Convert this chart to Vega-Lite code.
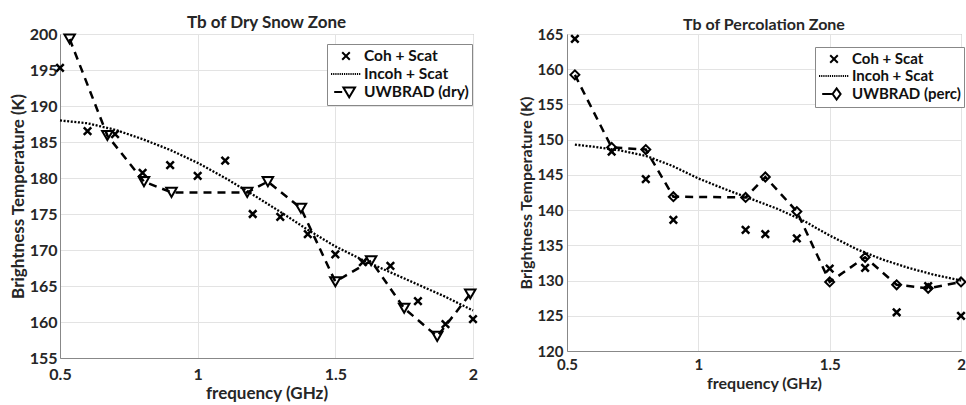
{
  "$schema": "https://vega.github.io/schema/vega-lite/v6.json",
  "padding": {"left": 8, "top": 13, "right": 0, "bottom": 0},
  "spacing": 94,
  "bounds": "flush",
  "datasets": {
    "dry": [
      {"series": "Coh + Scat", "f": 0.5, "tb": 195.3},
      {"series": "Coh + Scat", "f": 0.6, "tb": 186.5},
      {"series": "Coh + Scat", "f": 0.7, "tb": 186.1},
      {"series": "Coh + Scat", "f": 0.8, "tb": 180.7},
      {"series": "Coh + Scat", "f": 0.9, "tb": 181.8},
      {"series": "Coh + Scat", "f": 1.0, "tb": 180.3},
      {"series": "Coh + Scat", "f": 1.1, "tb": 182.4},
      {"series": "Coh + Scat", "f": 1.2, "tb": 175.0},
      {"series": "Coh + Scat", "f": 1.3, "tb": 174.6},
      {"series": "Coh + Scat", "f": 1.4, "tb": 172.2},
      {"series": "Coh + Scat", "f": 1.5, "tb": 169.4},
      {"series": "Coh + Scat", "f": 1.6, "tb": 168.3},
      {"series": "Coh + Scat", "f": 1.7, "tb": 167.8},
      {"series": "Coh + Scat", "f": 1.8, "tb": 162.9},
      {"series": "Coh + Scat", "f": 1.9, "tb": 159.7},
      {"series": "Coh + Scat", "f": 2.0, "tb": 160.4},
      {"series": "Incoh + Scat", "f": 0.5, "tb": 188.0},
      {"series": "Incoh + Scat", "f": 0.6, "tb": 187.6},
      {"series": "Incoh + Scat", "f": 0.7, "tb": 186.7},
      {"series": "Incoh + Scat", "f": 0.8, "tb": 185.4},
      {"series": "Incoh + Scat", "f": 0.9, "tb": 183.9},
      {"series": "Incoh + Scat", "f": 1.0, "tb": 182.1},
      {"series": "Incoh + Scat", "f": 1.1, "tb": 180.0},
      {"series": "Incoh + Scat", "f": 1.2, "tb": 177.7},
      {"series": "Incoh + Scat", "f": 1.3, "tb": 175.3},
      {"series": "Incoh + Scat", "f": 1.4, "tb": 172.8},
      {"series": "Incoh + Scat", "f": 1.5, "tb": 170.5},
      {"series": "Incoh + Scat", "f": 1.6, "tb": 168.6},
      {"series": "Incoh + Scat", "f": 1.7, "tb": 166.9},
      {"series": "Incoh + Scat", "f": 1.8, "tb": 165.2},
      {"series": "Incoh + Scat", "f": 1.9, "tb": 163.5},
      {"series": "Incoh + Scat", "f": 2.0, "tb": 161.6},
      {"series": "UWBRAD (dry)", "f": 0.535, "tb": 199.3},
      {"series": "UWBRAD (dry)", "f": 0.672, "tb": 185.9},
      {"series": "UWBRAD (dry)", "f": 0.805, "tb": 179.5},
      {"series": "UWBRAD (dry)", "f": 0.905, "tb": 178.0},
      {"series": "UWBRAD (dry)", "f": 1.18, "tb": 178.0},
      {"series": "UWBRAD (dry)", "f": 1.255, "tb": 179.5},
      {"series": "UWBRAD (dry)", "f": 1.375, "tb": 175.8},
      {"series": "UWBRAD (dry)", "f": 1.5, "tb": 165.6},
      {"series": "UWBRAD (dry)", "f": 1.63, "tb": 168.5},
      {"series": "UWBRAD (dry)", "f": 1.75, "tb": 161.9},
      {"series": "UWBRAD (dry)", "f": 1.87, "tb": 158.0},
      {"series": "UWBRAD (dry)", "f": 1.99, "tb": 163.9}
    ],
    "perc": [
      {"series": "Coh + Scat", "f": 0.53, "tb": 164.3},
      {"series": "Coh + Scat", "f": 0.67, "tb": 148.3},
      {"series": "Coh + Scat", "f": 0.8, "tb": 144.4},
      {"series": "Coh + Scat", "f": 0.905, "tb": 138.6},
      {"series": "Coh + Scat", "f": 1.18, "tb": 137.2},
      {"series": "Coh + Scat", "f": 1.255, "tb": 136.6},
      {"series": "Coh + Scat", "f": 1.375, "tb": 136.0},
      {"series": "Coh + Scat", "f": 1.5, "tb": 131.7},
      {"series": "Coh + Scat", "f": 1.635, "tb": 131.8},
      {"series": "Coh + Scat", "f": 1.755, "tb": 125.5},
      {"series": "Coh + Scat", "f": 1.875, "tb": 129.2},
      {"series": "Coh + Scat", "f": 2.0, "tb": 125.0},
      {"series": "Incoh + Scat", "f": 0.53, "tb": 149.3},
      {"series": "Incoh + Scat", "f": 0.6, "tb": 149.0},
      {"series": "Incoh + Scat", "f": 0.7, "tb": 148.5},
      {"series": "Incoh + Scat", "f": 0.8, "tb": 147.7},
      {"series": "Incoh + Scat", "f": 0.9, "tb": 146.3},
      {"series": "Incoh + Scat", "f": 1.0, "tb": 144.5},
      {"series": "Incoh + Scat", "f": 1.1, "tb": 143.0},
      {"series": "Incoh + Scat", "f": 1.2, "tb": 141.6},
      {"series": "Incoh + Scat", "f": 1.3, "tb": 140.2},
      {"series": "Incoh + Scat", "f": 1.4, "tb": 138.5},
      {"series": "Incoh + Scat", "f": 1.5, "tb": 136.4},
      {"series": "Incoh + Scat", "f": 1.6, "tb": 134.5},
      {"series": "Incoh + Scat", "f": 1.7, "tb": 133.0},
      {"series": "Incoh + Scat", "f": 1.8, "tb": 131.8},
      {"series": "Incoh + Scat", "f": 1.9, "tb": 130.8},
      {"series": "Incoh + Scat", "f": 2.0, "tb": 130.0},
      {"series": "UWBRAD (perc)", "f": 0.53, "tb": 159.2},
      {"series": "UWBRAD (perc)", "f": 0.67, "tb": 148.9},
      {"series": "UWBRAD (perc)", "f": 0.8, "tb": 148.6},
      {"series": "UWBRAD (perc)", "f": 0.905, "tb": 141.9},
      {"series": "UWBRAD (perc)", "f": 1.18, "tb": 141.8},
      {"series": "UWBRAD (perc)", "f": 1.255, "tb": 144.7},
      {"series": "UWBRAD (perc)", "f": 1.375, "tb": 139.8},
      {"series": "UWBRAD (perc)", "f": 1.5, "tb": 129.8},
      {"series": "UWBRAD (perc)", "f": 1.635, "tb": 133.3},
      {"series": "UWBRAD (perc)", "f": 1.755, "tb": 129.4},
      {"series": "UWBRAD (perc)", "f": 1.875, "tb": 128.9},
      {"series": "UWBRAD (perc)", "f": 2.0, "tb": 129.8}
    ]
  },
  "hconcat": [
    {
      "width": 413,
      "height": 324,
      "title": {"text": "Tb of Dry Snow Zone"},
      "data": {"name": "dry"},
      "encoding": {
        "x": {"field": "f", "type": "quantitative", "scale": {"domain": [0.5, 2], "nice": false},
              "axis": {"values": [0.5, 1, 1.5, 2], "format": "~g", "title": "frequency (GHz)", "labelFlush": false}},
        "y": {"field": "tb", "type": "quantitative", "scale": {"domain": [155, 200], "nice": false, "zero": false},
              "axis": {"values": [155, 160, 165, 170, 175, 180, 185, 190, 195, 200], "title": "Brightness Temperature (K)"}}
      },
      "layer": [
        {"transform": [{"filter": "datum.series == 'Incoh + Scat'"}],
         "mark": {"type": "line", "color": "black", "strokeWidth": 2.3, "strokeDash": [2, 1.6]}},
        {"transform": [{"filter": "datum.series == 'UWBRAD (dry)'"}],
         "mark": {"type": "line", "color": "black", "strokeWidth": 2.5, "strokeDash": [8, 6]}},
        {"transform": [{"filter": "datum.series == 'UWBRAD (dry)'"}],
         "mark": {"type": "point", "shape": "triangle-down", "filled": false, "color": "black", "strokeWidth": 2, "size": 110, "opacity": 1}},
        {"transform": [{"filter": "datum.series == 'Coh + Scat'"}],
         "mark": {"type": "point", "shape": "M-1,-1L1,1M1,-1L-1,1", "filled": false, "color": "black", "strokeWidth": 2.5, "size": 56, "opacity": 1}},
        {"transform": [{"filter": "datum.series == 'legend only'"}],
         "mark": {"type": "point", "filled": false, "color": "black", "strokeWidth": 2, "size": 256, "opacity": 1},
         "encoding": {
           "shape": {"field": "series", "type": "nominal",
             "scale": {"domain": ["Coh + Scat", "Incoh + Scat", "UWBRAD (dry)"],
                       "range": ["M0.4,-0.47L1.35,0.47M1.35,-0.47L0.4,0.47",
                                 "M-1,0h0.15m0.12,0h0.15m0.12,0h0.15m0.12,0h0.15m0.12,0h0.15m0.12,0h0.15m0.12,0h0.15m0.12,0h0.15m0.12,0h0.15m0.12,0h0.15m0.12,0h0.15m0.12,0h0.15m0.12,0h0.15m0.12,0h0.15",
                                 "M-0.6,0H0.4M0.55,-0.55H2L1.275,0.65Z"]},
             "legend": {"title": null, "orient": "none", "legendX": 267, "legendY": 10, "fillColor": "white", "strokeColor": "#888",
                        "padding": 3, "labelFont": "Lato", "labelFontSize": 15.5, "labelFontWeight": "bold", "labelColor": "#111",
                        "symbolSize": 256, "symbolStrokeWidth": 2, "symbolStrokeColor": "black", "labelOffset": 16, "rowPadding": 0}}
         }}
      ]
    },
    {
      "width": 394,
      "height": 317,
      "title": {"text": "Tb of Percolation Zone", "fontSize": 16},
      "data": {"name": "perc"},
      "encoding": {
        "x": {"field": "f", "type": "quantitative", "scale": {"domain": [0.5, 2], "nice": false},
              "axis": {"values": [0.5, 1, 1.5, 2], "format": "~g", "title": "frequency (GHz)", "labelFlush": false,
                       "labelFontSize": 15, "titleFontSize": 16, "labelPadding": 6}},
        "y": {"field": "tb", "type": "quantitative", "scale": {"domain": [120, 165], "nice": false, "zero": false},
              "axis": {"values": [120, 125, 130, 135, 140, 145, 150, 155, 160, 165], "title": "Brightness Temperature (K)",
                       "labelFontSize": 15, "titleFontSize": 16, "labelPadding": 4}}
      },
      "layer": [
        {"transform": [{"filter": "datum.series == 'Incoh + Scat'"}],
         "mark": {"type": "line", "color": "black", "strokeWidth": 2.3, "strokeDash": [2, 1.6]}},
        {"transform": [{"filter": "datum.series == 'UWBRAD (perc)'"}],
         "mark": {"type": "line", "color": "black", "strokeWidth": 2.5, "strokeDash": [8, 6]}},
        {"transform": [{"filter": "datum.series == 'UWBRAD (perc)'"}],
         "mark": {"type": "point", "shape": "diamond", "filled": false, "color": "black", "strokeWidth": 2, "size": 80, "opacity": 1}},
        {"transform": [{"filter": "datum.series == 'Coh + Scat'"}],
         "mark": {"type": "point", "shape": "M-1,-1L1,1M1,-1L-1,1", "filled": false, "color": "black", "strokeWidth": 2.5, "size": 56, "opacity": 1}},
        {"transform": [{"filter": "datum.series == 'legend only'"}],
         "mark": {"type": "point", "filled": false, "color": "black", "strokeWidth": 2, "size": 256, "opacity": 1},
         "encoding": {
           "shape": {"field": "series", "type": "nominal",
             "scale": {"domain": ["Coh + Scat", "Incoh + Scat", "UWBRAD (perc)"],
                       "range": ["M0.4,-0.47L1.35,0.47M1.35,-0.47L0.4,0.47",
                                 "M-1,0h0.15m0.12,0h0.15m0.12,0h0.15m0.12,0h0.15m0.12,0h0.15m0.12,0h0.15m0.12,0h0.15m0.12,0h0.15m0.12,0h0.15m0.12,0h0.15m0.12,0h0.15m0.12,0h0.15m0.12,0h0.15m0.12,0h0.15",
                                 "M-0.6,0H0.6M1.2,-0.7L1.7,0L1.2,0.7L0.7,0Z"]},
             "legend": {"title": null, "orient": "none", "legendX": 248, "legendY": 13, "fillColor": "white", "strokeColor": "#888",
                        "padding": 3, "labelFont": "Lato", "labelFontSize": 15, "labelFontWeight": "bold", "labelColor": "#111",
                        "symbolSize": 256, "symbolStrokeWidth": 2, "symbolStrokeColor": "black", "labelOffset": 16, "rowPadding": 0}}
         }}
      ]
    }
  ],
  "resolve": {"scale": {"shape": "independent", "x": "independent", "y": "independent"}, "legend": {"shape": "independent"}},
  "config": {
    "font": "Lato",
    "view": {"stroke": "#999", "strokeWidth": 1},
    "axis": {
      "labelFont": "Lato", "labelFontSize": 16, "labelFontWeight": "bold", "labelColor": "#262626",
      "titleFont": "Lato", "titleFontSize": 17, "titleFontWeight": "bold", "titleColor": "#262626",
      "gridColor": "#e3e3e3", "gridWidth": 1, "domainColor": "#888", "ticks": false
    },
    "axisX": {"labelPadding": 8, "titlePadding": 3},
    "axisY": {"labelPadding": 3, "titlePadding": 2},
    "title": {"font": "Lato", "fontSize": 17, "fontWeight": "bold", "color": "#262626", "offset": -6}
  }
}
